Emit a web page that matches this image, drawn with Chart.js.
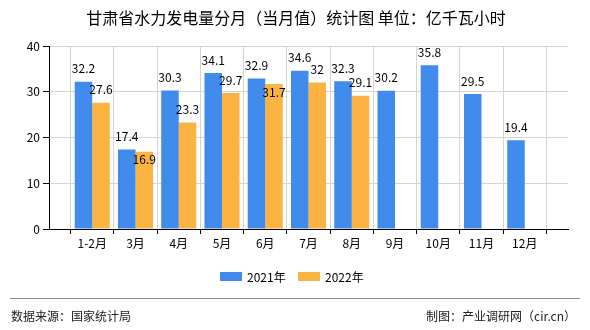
<!DOCTYPE html>
<html>
<head>
<meta charset="utf-8">
<script src="https://cdn.jsdelivr.net/npm/chart.js@4"></script>
<style>
  html, body { margin: 0; padding: 0; background: #fff; }
  #wrap { width: 590px; height: 330px; position: relative; }
</style>
</head>
<body>
<div id="wrap"><canvas id="myChart" width="590" height="330"></canvas></div>
<script>
const titleText = "甘肃省水力发电量分月（当月值）统计图 单位：亿千瓦小时";
const categories = ["1-2月", "3月", "4月", "5月", "6月", "7月", "8月", "9月", "10月", "11月", "12月"];
const values2021 = [32.2, 17.4, 30.3, 34.1, 32.9, 34.6, 32.3, 30.2, 35.8, 29.5, 19.4];
const values2022 = [27.6, 16.9, 23.3, 29.7, 31.7, 32, 29.1, null, null, null, null];
const seriesNames = ["2021年", "2022年"];
const yTicks = [0, 10, 20, 30, 40];
const sourceText = "数据来源：国家统计局";
const creditText = "制图：产业调研网（cir.cn）";

const FONT = "'Noto Sans CJK SC', sans-serif";
const BLUE = "#418bec";
const ORANGE = "#fbb341";

// empty slot on each side of the axis, like the original
const labels = [""].concat(categories, [""]);
const pad = (arr) => [null].concat(arr, [null]);

const decorations = {
  id: "decorations",
  afterDraw(chart) {
    const c = chart.ctx;
    c.save();

    // title
    c.fillStyle = "#000";
    c.font = "16px " + FONT;
    c.textAlign = "center";
    c.textBaseline = "middle";
    c.fillText(titleText, 296, 18);

    // value labels: above the bar, pushed inside the bar top if they
    // would collide with the neighbouring label of the first series
    c.font = "12px " + FONT;
    const placed = [];
    chart.data.datasets.forEach((ds, i) => {
      chart.getDatasetMeta(i).data.forEach((bar, j) => {
        const v = ds.data[j];
        if (v == null) return;
        let y = bar.y - 13;
        const other = placed[j];
        if (other !== undefined && Math.abs(other - y) < 10) y = bar.y + 8;
        if (i === 0) placed[j] = y;
        c.fillText(String(v), bar.x, y);
      });
    });

    // legend
    const items = [
      { x: 220, color: BLUE, text: seriesNames[0] },
      { x: 298, color: ORANGE, text: seriesNames[1] },
    ];
    c.textAlign = "left";
    items.forEach((it) => {
      c.fillStyle = it.color;
      c.fillRect(it.x, 272, 22, 9);
      c.fillStyle = "#000";
      c.fillText(it.text, it.x + 27, 277);
    });

    // footer
    c.strokeStyle = "#8c8c8c";
    c.lineWidth = 1;
    c.beginPath();
    c.moveTo(10, 298.5);
    c.lineTo(580, 298.5);
    c.stroke();
    c.fillStyle = "#222";
    c.textAlign = "left";
    c.fillText(sourceText, 11, 316);
    c.textAlign = "right";
    c.fillText(creditText, 576, 316);

    c.restore();
  },
};

const ctx = document.getElementById("myChart");

new Chart(ctx, {
  type: "bar",
  data: {
    labels: labels,
    datasets: [
      {
        label: seriesNames[0],
        data: pad(values2021),
        backgroundColor: BLUE,
        categoryPercentage: 0.81,
        barPercentage: 1,
      },
      {
        label: seriesNames[1],
        data: pad(values2022),
        backgroundColor: ORANGE,
        categoryPercentage: 0.81,
        barPercentage: 1,
      },
    ],
  },
  options: {
    responsive: false,
    animation: false,
    layout: { padding: { left: 0, right: 22, top: 46, bottom: 71 } },
    plugins: {
      legend: { display: false },
      tooltip: { enabled: false },
    },
    scales: {
      x: {
        offset: false,
        grid: {
          color: "#d4d4d4",
          tickColor: "#000",
          tickLength: 5,
        },
        border: { color: "#000", width: 1 },
        ticks: {
          color: "#000",
          font: { family: FONT, size: 12 },
          maxRotation: 0,
          autoSkip: false,
          padding: 2,
        },
        afterFit(scale) { scale.height = 30; },
      },
      y: {
        min: 0,
        max: 40,
        afterBuildTicks(scale) { scale.ticks = yTicks.map((v) => ({ value: v })); },
        grid: {
          color: "#d4d4d4",
          tickColor: "#000",
          tickLength: 6,
        },
        border: { color: "#000", width: 1 },
        ticks: {
          color: "#000",
          font: { family: FONT, size: 12 },
          padding: 3,
        },
        afterFit(scale) { scale.width = 49; },
      },
    },
  },
  plugins: [decorations],
});
</script>
</body>
</html>
